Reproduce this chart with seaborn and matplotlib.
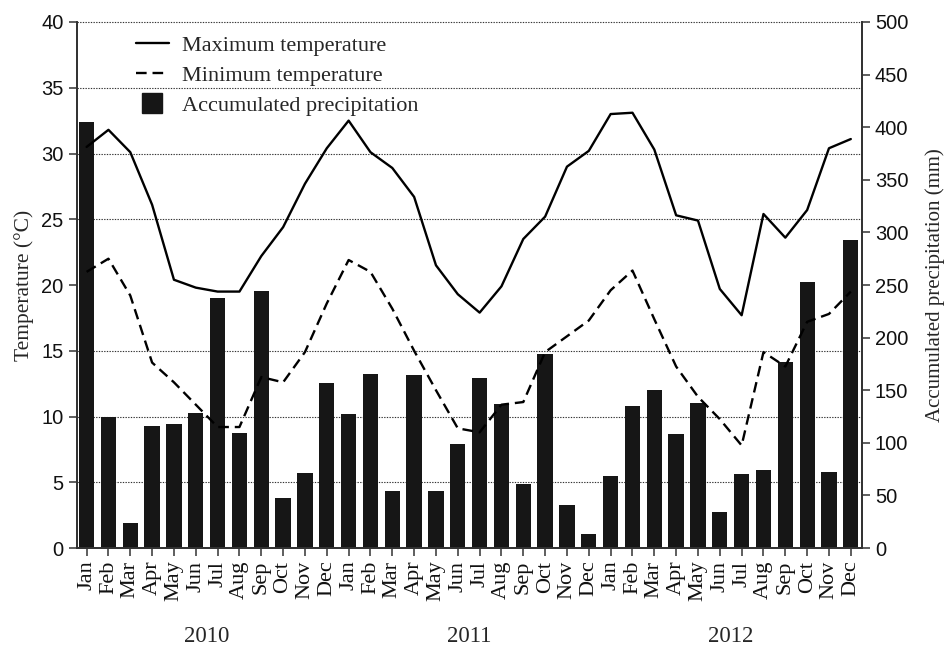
import numpy as np
import pandas as pd
import matplotlib
matplotlib.use('Agg')
import matplotlib.pyplot as plt
import matplotlib.transforms as mtransforms
from matplotlib.lines import Line2D
from matplotlib.ticker import FixedLocator
import seaborn as sns

# monthly data, Jan 2010 - Dec 2012
years = ['2010', '2011', '2012']
months = ['Jan', 'Feb', 'Mar', 'Apr', 'May', 'Jun',
          'Jul', 'Aug', 'Sep', 'Oct', 'Nov', 'Dec']

precip = [405, 125, 24, 116, 118, 128, 238, 109, 244, 48, 71, 157,
          127, 165, 54, 164, 54, 99, 162, 137, 61, 184, 41, 13,
          68, 135, 150, 108, 138, 34, 70, 74, 177, 253, 72, 293]

tmax = [30.5, 31.8, 30.1, 26.1, 20.4, 19.8, 19.5, 19.5, 22.2, 24.4, 27.7, 30.4,
        32.5, 30.1, 28.9, 26.7, 21.5, 19.3, 17.9, 19.9, 23.5, 25.2, 29.0, 30.2,
        33.0, 33.1, 30.3, 25.3, 24.9, 19.7, 17.7, 25.4, 23.6, 25.7, 30.4, 31.1]

tmin = [21.0, 22.0, 19.2, 14.1, 12.6, 10.9, 9.2, 9.2, 13.0, 12.6, 14.9, 18.6,
        21.9, 21.0, 18.2, 15.0, 12.0, 9.1, 8.8, 10.9, 11.1, 14.9, 16.1, 17.3,
        19.6, 21.1, 17.4, 13.8, 11.5, 9.8, 7.8, 14.9, 13.8, 17.2, 17.8, 19.5]

df = pd.DataFrame({
    'idx': np.arange(len(precip)),
    'year': np.repeat(years, 12),
    'month': months * len(years),
    'precip': precip,
    'tmax': tmax,
    'tmin': tmin,
})

sns.set_style('ticks')
serif = ['Liberation Serif', 'DejaVu Serif']
sans = ['Liberation Sans', 'DejaVu Sans']
plt.rcParams['font.family'] = sans

fig = plt.figure(figsize=(9.48, 6.47), dpi=100)
ax = fig.add_axes([0.081, 0.153, 0.828, 0.813])
ax2 = ax.twinx()  # temperature axis, drawn over the bars

# precipitation bars on the right-hand axis
sns.barplot(data=df, x='idx', y='precip', ax=ax, color='#161616',
            saturation=1, width=0.7, edgecolor='none')
ax.set_ylim(0, 500)
ax.set_xlim(-0.45, 35.5)
ax.set_yticks(np.arange(0, 501, 50))
ax.yaxis.tick_right()
ax.yaxis.set_label_position('right')
ax.set_ylabel('Accumulated precipitation (mm)', family=serif, fontsize=15,
              labelpad=12)
ax.set_xlabel('')
ax.set_xticks(df['idx'])
ax.set_xticklabels(df['month'], rotation=90, family=serif, fontsize=16)

# dotted grid lines at every 5 degrees of the temperature scale
grid_style = dict(linestyle=(0, (1.2, 1.2)), color='#333333', lw=0.8)
ax.yaxis.set_minor_locator(FixedLocator(np.linspace(0, 500, 9)[1:]))
ax.grid(which='minor', axis='y', **grid_style)
ax.set_axisbelow(True)
ax.tick_params(axis='y', which='minor', length=0)
# the top one sits on the axes edge and gets clipped, so draw it unclipped
ax.axhline(ax.get_ylim()[1], clip_on=False, zorder=0.5, **grid_style)

# temperature lines on the left-hand axis
sns.lineplot(data=df, x='idx', y='tmax', ax=ax2, color='black', linewidth=1.7)
sns.lineplot(data=df, x='idx', y='tmin', ax=ax2, color='black', linewidth=1.7,
             linestyle=(0, (4.5, 2.5)))
ax2.set_ylim(0, 40)
ax2.set_xlim(-0.45, 35.5)
ax2.set_yticks(np.arange(0, 41, 5))
ax2.yaxis.tick_left()
ax2.yaxis.set_label_position('left')
ax2.set_ylabel('Temperature (\u00b0C)', family=serif, fontsize=15.5, labelpad=5)
ax2.set_xlabel('')

for a in (ax, ax2):
    a.spines['top'].set_visible(False)
    for s in ('left', 'right', 'bottom'):
        a.spines[s].set_color('#333333')
        a.spines[s].set_linewidth(1.3)
    a.tick_params(axis='both', which='major', direction='out', length=6,
                  width=1.1, color='#333333', labelsize=14.5, labelcolor='#111111')
ax.tick_params(axis='x', pad=3, labelsize=16)
for lab in ax.get_yticklabels() + ax2.get_yticklabels():
    lab.set_family(sans)

# year labels centred under each group of months
trans = mtransforms.blended_transform_factory(ax.transData, fig.transFigure)
for yr, grp in df.groupby('year'):
    ax.text(grp['idx'].mean(), 0.016, yr, transform=trans, ha='center',
            va='center', family=serif, fontsize=16.5)

handles = [
    Line2D([], [], color='black', lw=1.7),
    Line2D([], [], color='black', lw=1.7, linestyle=(0, (4.5, 2.5))),
    Line2D([], [], color='#161616', marker='s', markersize=15, linestyle='none'),
]
labels = ['Maximum temperature', 'Minimum temperature', 'Accumulated precipitation']
ax2.legend(handles, labels, loc='upper left', bbox_to_anchor=(0.058, 1.0),
           frameon=False, prop={'family': serif, 'size': 16},
           handlelength=1.5, handletextpad=0.6, labelspacing=0.42,
           borderaxespad=0.2)

fig.savefig('out.png', dpi=100)
